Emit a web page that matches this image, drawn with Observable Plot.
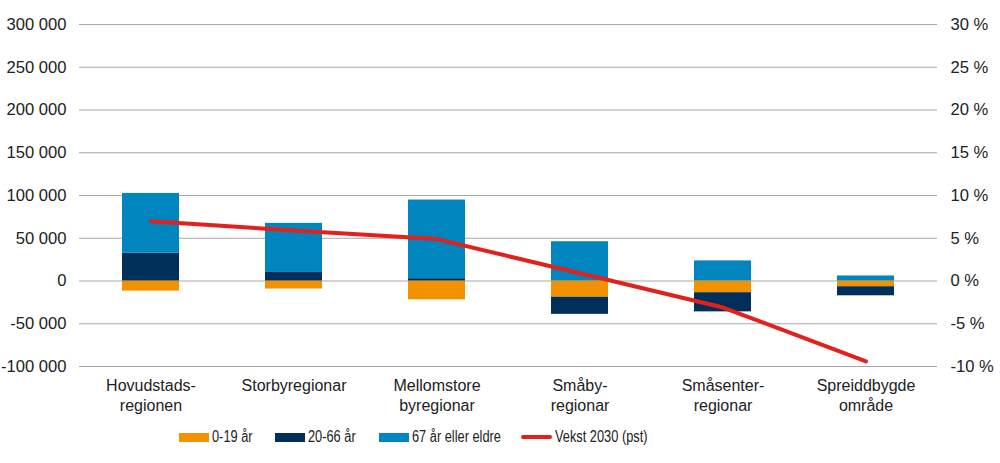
<!DOCTYPE html>
<html>
<head>
<meta charset="utf-8">
<script src="https://cdn.jsdelivr.net/npm/d3@7"></script>
<script src="https://cdn.jsdelivr.net/npm/@observablehq/plot@0.6"></script>
<style>
  body { margin: 0; background: #fff; font-family: "Liberation Sans", Arial, sans-serif; color: #222; }
  #chart svg { display: block; }
  #legend { position: relative; height: 43px; font-size: 16px; }
  .item { position: absolute; top: 8px; display: flex; align-items: center; white-space: nowrap; }
  .sw { width: 30px; height: 9px; margin-right: 3px; }
  .ln { width: 31px; height: 4px; border-radius: 2px; margin-right: 3px; margin-left: 1px; }
  .tx { display: inline-block; transform: scaleX(0.8); transform-origin: left center; }
</style>
</head>
<body>
<div id="chart"></div>
<div id="legend"></div>
<script>
const categories = ["Hovudstads-\nregionen", "Storbyregionar", "Mellomstore\nbyregionar", "Småby-\nregionar", "Småsenter-\nregionar", "Spreiddbygde\nområde"];
const ageGroups = ["0-19 år", "20-66 år", "67 år eller eldre"];
const age0_19 = [-11800, -9400, -22000, -19000, -13700, -6700];
const age20_66 = [32500, 10000, 2700, -20000, -22400, -10600];
const age67 = [69900, 57400, 92000, 45900, 23500, 5900];
const vekst2030 = [7.0, 5.9, 4.9, 0.9, -3.1, -9.4];
const lineName = "Vekst 2030 (pst)";
const leftTicks = [-100000, -50000, 0, 50000, 100000, 150000, 200000, 250000, 300000];
const rightTicks = [-10, -5, 0, 5, 10, 15, 20, 25, 30];
const colors = ["#f39200", "#002f5a", "#0085be"];
const lineColor = "#e3201b";

const series = [age0_19, age20_66, age67];
const barData = [];
ageGroups.forEach((g, gi) => categories.forEach((c, ci) => barData.push({cat: c, group: g, value: series[gi][ci]})));
const lineData = categories.map((c, i) => ({cat: c, v: vekst2030[i]}));
const pctScale = 10000; // 1 % on right axis == 10 000 on left axis
const fmtLeft = d => String(d).replace(/\B(?=(\d{3})+(?!\d))/g, " ");

const plot = Plot.plot({
  width: 1000,
  height: 420,
  marginTop: 24,
  marginBottom: 54,
  marginLeft: 79,
  marginRight: 63,
  style: {fontSize: "16px", fontFamily: "'Liberation Sans', Arial, sans-serif", color: "#222", background: "#fff"},
  x: {domain: categories, paddingInner: 0.6, paddingOuter: 0.3},
  y: {domain: [-100000, 300000]},
  color: {domain: ageGroups, range: colors},
  marks: [
    Plot.gridY(leftTicks, {stroke: "#a8a8a8", strokeOpacity: 1, strokeWidth: 1.2}),
    Plot.barY(barData, {x: "cat", y: "value", fill: "group", order: ageGroups}),
    Plot.line(lineData, {x: "cat", y: d => d.v * pctScale, stroke: lineColor, strokeWidth: 4, strokeLinecap: "round"}),
    Plot.axisY(leftTicks, {anchor: "left", tickSize: 0, tickPadding: 13, tickFormat: fmtLeft, label: null, fontSize: 16.6}),
    Plot.axisY(rightTicks.map(d => d * pctScale), {anchor: "right", tickSize: 0, tickPadding: 13, tickFormat: d => `${d / pctScale} %`, label: null, textAnchor: "start", fontSize: 16.6}),
    Plot.axisX({tickSize: 0, tickPadding: 10, label: null, lineHeight: 1.25})
  ]
});
document.getElementById("chart").appendChild(plot);

const legend = document.getElementById("legend");
const items = [
  {name: ageGroups[0], color: colors[0], left: 179},
  {name: ageGroups[1], color: colors[1], left: 275},
  {name: ageGroups[2], color: colors[2], left: 379},
  {name: lineName, color: lineColor, left: 520, line: true}
];
items.forEach(it => {
  const d = document.createElement("div");
  d.className = "item";
  d.style.left = it.left + "px";
  const s = document.createElement("span");
  s.className = it.line ? "ln" : "sw";
  s.style.background = it.color;
  d.appendChild(s);
  const t = document.createElement("span");
  t.className = "tx";
  t.textContent = it.name;
  d.appendChild(t);
  legend.appendChild(d);
});
</script>
</body>
</html>
